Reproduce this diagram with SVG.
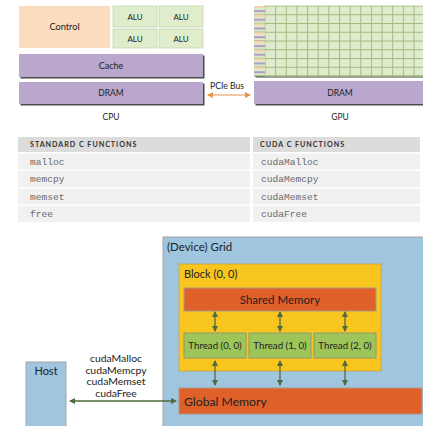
<svg xmlns="http://www.w3.org/2000/svg" width="423" height="426" viewBox="0 0 423 426">
  <style>
    .sans { font-family: Lato, "Noto Sans", "DejaVu Sans", sans-serif; fill: #222; }
    .mono { font-family: "Liberation Mono", "DejaVu Sans Mono", monospace; font-size: 9.6px; fill: #6a6a6a; }
    .hdr { font-family: Lato, "Noto Sans", sans-serif; font-size: 7.2px; font-weight: bold; letter-spacing: 0.95px; fill: #333; }
    .alu { fill: #e0edcc; stroke: #c6d6ae; stroke-width: 0.8; }
    .purple { fill: #b9a7cd; }
    .shadow { fill: #4d4d4d; }
    .cellrow { fill: #f1f1f1; }
    .blue { fill: #9fc5df; stroke: #a5a5a5; stroke-width: 1; }
    .orange { fill: #e0602a; stroke: #a99a8a; stroke-width: 1; }
    .thread { fill: #9ec55a; stroke: #8a9a72; stroke-width: 1; }
    .conn { stroke: #4e6b3c; stroke-width: 1.3; fill: none; marker-start: url(#ahS); marker-end: url(#ahE); }
  </style>
  <defs>
    <marker id="ahE" markerWidth="6" markerHeight="6" refX="5" refY="3" orient="auto" markerUnits="userSpaceOnUse">
      <path d="M0,0 L6,3 L0,6 Z" fill="#4e6b3c"/>
    </marker>
    <marker id="ahS" markerWidth="6" markerHeight="6" refX="1" refY="3" orient="auto" markerUnits="userSpaceOnUse">
      <path d="M6,0 L0,3 L6,6 Z" fill="#4e6b3c"/>
    </marker>
    <marker id="oE" markerWidth="6" markerHeight="6" refX="5" refY="3" orient="auto" markerUnits="userSpaceOnUse">
      <path d="M0,0 L6,3 L0,6 Z" fill="#e8924a"/>
    </marker>
    <marker id="oS" markerWidth="6" markerHeight="6" refX="1" refY="3" orient="auto" markerUnits="userSpaceOnUse">
      <path d="M6,0 L0,3 L6,6 Z" fill="#e8924a"/>
    </marker>
    <pattern id="cells" x="264.5" y="5.5" width="10.64" height="8.75" patternUnits="userSpaceOnUse">
      <rect width="10.64" height="8.75" fill="#dfeccb"/>
      <rect x="0" y="0" width="1" height="8.75" fill="#a3ba7f"/>
      <rect x="0" y="0" width="10.64" height="1" fill="#a3ba7f"/>
    </pattern>
    <pattern id="stripes" x="254" y="6" width="11" height="8.75" patternUnits="userSpaceOnUse">
      <rect width="11" height="8.75" fill="#dfeccb"/>
      <rect y="0" width="11" height="2" fill="#f6d3b0"/>
      <rect y="4" width="11" height="2" fill="#ad9ac6"/>
      <rect y="8" width="11" height="0.75" fill="#a8bd86"/>
    </pattern>
  </defs>

  <!-- CPU block -->
  <g id="cpu">
    <rect x="19" y="6" width="91" height="42" fill="#fcdcbf"/>
    <text class="sans" x="64.5" y="30" font-size="9.2" text-anchor="middle">Control</text>
    <rect class="alu" x="113" y="6" width="44" height="21"/>
    <rect class="alu" x="159" y="6" width="44" height="21"/>
    <rect class="alu" x="113" y="29" width="44" height="19"/>
    <rect class="alu" x="159" y="29" width="44" height="19"/>
    <text class="sans" x="135" y="19.5" font-size="8" text-anchor="middle">ALU</text>
    <text class="sans" x="181" y="19.5" font-size="8" text-anchor="middle">ALU</text>
    <text class="sans" x="135" y="41.5" font-size="8" text-anchor="middle">ALU</text>
    <text class="sans" x="181" y="41.5" font-size="8" text-anchor="middle">ALU</text>
    <rect class="shadow" x="20.5" y="55.5" width="184" height="23"/>
    <rect class="purple" x="19" y="54" width="184" height="23"/>
    <text class="sans" x="111" y="68.5" font-size="9" text-anchor="middle">Cache</text>
    <rect class="shadow" x="20.5" y="83.5" width="184" height="22"/>
    <rect class="purple" x="19" y="82" width="184" height="22"/>
    <text class="sans" x="111" y="96" font-size="8.5" text-anchor="middle">DRAM</text>
    <text class="sans" x="111" y="120" font-size="8.5" text-anchor="middle">CPU</text>
  </g>

  <!-- GPU block -->
  <g id="gpu">
    <rect class="shadow" x="255.5" y="7.5" width="170" height="70"/>
    <rect x="264.5" y="5.5" width="158.5" height="71" fill="url(#cells)"/>
    <rect x="254" y="6" width="11" height="70" fill="url(#stripes)"/>
    <rect x="254" y="75.5" width="169" height="1" fill="#a3ba7f"/>
    <rect class="shadow" x="255.5" y="82.5" width="170" height="23"/>
    <rect class="purple" x="254" y="81" width="169" height="23"/>
    <text class="sans" x="340" y="95.5" font-size="8.5" text-anchor="middle">DRAM</text>
    <text class="sans" x="340" y="120" font-size="8.5" text-anchor="middle">GPU</text>
  </g>

  <!-- PCIe bus link -->
  <g id="pcie">
    <text class="sans" x="210" y="88.5" font-size="8.6">PCIe Bus</text>
    <line x1="208" y1="95" x2="250" y2="95" stroke="#e8924a" stroke-width="1.2" marker-start="url(#oS)" marker-end="url(#oE)"/>
  </g>

  <!-- Function table -->
  <g id="table">
    <rect x="18" y="137" width="232" height="15" fill="#dcdcdc"/>
    <rect x="253" y="137" width="167" height="15" fill="#dcdcdc"/>
    <text class="hdr" x="30" y="147">STANDARD C FUNCTIONS</text>
    <text class="hdr" x="260" y="147">CUDA C FUNCTIONS</text>
    <rect class="cellrow" x="18" y="153.5" width="232" height="16"/>
    <rect class="cellrow" x="253" y="153.5" width="167" height="16"/>
    <rect class="cellrow" x="18" y="171" width="232" height="16"/>
    <rect class="cellrow" x="253" y="171" width="167" height="16"/>
    <rect class="cellrow" x="18" y="188.5" width="232" height="16"/>
    <rect class="cellrow" x="253" y="188.5" width="167" height="16"/>
    <rect class="cellrow" x="18" y="206" width="232" height="16"/>
    <rect class="cellrow" x="253" y="206" width="167" height="16"/>
    <text class="mono" x="30" y="164.5">malloc</text>
    <text class="mono" x="261" y="164.5">cudaMalloc</text>
    <text class="mono" x="30" y="182">memcpy</text>
    <text class="mono" x="261" y="182">cudaMemcpy</text>
    <text class="mono" x="30" y="199.5">memset</text>
    <text class="mono" x="261" y="199.5">cudaMemset</text>
    <text class="mono" x="30" y="217">free</text>
    <text class="mono" x="261" y="217">cudaFree</text>
  </g>

  <!-- Device grid -->
  <g id="grid">
    <rect class="blue" x="163" y="237" width="262" height="195"/>
    <text class="sans" x="167" y="250.5" font-size="11.5">(Device) Grid</text>
  </g>

  <g id="block">
    <rect x="179" y="264" width="202" height="107" fill="#f8c61f" stroke="#c9a44a" stroke-width="0.8"/>
    <text class="sans" x="184" y="277.5" font-size="11">Block (0, 0)</text>
  </g>

  <g id="shared-memory">
    <rect class="orange" x="184" y="288" width="192" height="23"/>
    <text class="sans" x="280" y="303.5" font-size="11.5" text-anchor="middle">Shared Memory</text>
  </g>

  <g id="thread-0-0">
    <rect class="thread" x="184" y="333" width="62" height="25"/>
    <text class="sans" x="215" y="349" font-size="9.7" text-anchor="middle">Thread (0, 0)</text>
  </g>
  <g id="thread-1-0">
    <rect class="thread" x="249" y="333" width="62" height="25"/>
    <text class="sans" x="280" y="349" font-size="9.7" text-anchor="middle">Thread (1, 0)</text>
  </g>
  <g id="thread-2-0">
    <rect class="thread" x="314" y="333" width="62" height="25"/>
    <text class="sans" x="345" y="349" font-size="9.7" text-anchor="middle">Thread (2, 0)</text>
  </g>

  <g id="global-memory">
    <rect class="orange" x="179" y="388" width="243" height="26"/>
    <text class="sans" x="184" y="405.5" font-size="12.2">Global Memory</text>
  </g>

  <g id="host">
    <rect class="blue" x="26" y="362" width="40" height="70"/>
    <text class="sans" x="46" y="375" font-size="11" text-anchor="middle">Host</text>
  </g>

  <!-- Host API labels -->
  <g id="api-labels" class="sans" font-size="10.4" text-anchor="middle">
    <text x="116" y="362">cudaMalloc</text>
    <text x="116" y="373.5">cudaMemcpy</text>
    <text x="116" y="385">cudaMemset</text>
    <text x="116" y="396.5">cudaFree</text>
  </g>

  <!-- Connectors -->
  <g id="connectors">
    <line class="conn" x1="215" y1="312" x2="215" y2="331"/>
    <line class="conn" x1="280" y1="312" x2="280" y2="331"/>
    <line class="conn" x1="345" y1="312" x2="345" y2="331"/>
    <line class="conn" x1="215" y1="361" x2="215" y2="385"/>
    <line class="conn" x1="280" y1="361" x2="280" y2="385"/>
    <line class="conn" x1="345" y1="361" x2="345" y2="385"/>
    <line class="conn" x1="70" y1="401" x2="176" y2="401"/>
  </g>
</svg>
